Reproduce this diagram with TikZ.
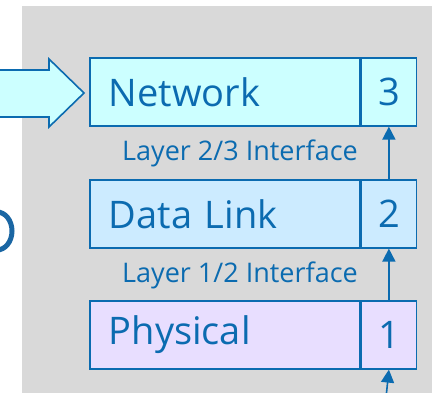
\documentclass[tikz,border=0pt]{standalone}
\usepackage{fontspec}
\setmainfont{Open Sans}
\usetikzlibrary{arrows.meta}

\definecolor{edgeblue}{HTML}{0B6BB0}
\definecolor{ringblue}{HTML}{1A66A3}
\definecolor{bggray}{HTML}{D9D9D9}
\definecolor{netfill}{HTML}{CCFFFF}
\definecolor{dlfill}{HTML}{CCEBFF}
\definecolor{phyfill}{HTML}{E8DEFF}

\tikzset{
  namecell/.style={draw=edgeblue, line width=1.6pt, text=edgeblue,
    font=\fontsize{38}{40}\selectfont, minimum height=68pt,
    text width=232pt, inner xsep=19pt, inner ysep=0pt, align=left,
    anchor=north west},
  numcell/.style={draw=edgeblue, line width=1.6pt, text=edgeblue,
    font=\fontsize{38}{40}\selectfont, minimum height=68pt,
    minimum width=55pt, inner sep=0pt, anchor=west},
  iflabel/.style={text=edgeblue, font=\fontsize{27}{29}\selectfont, inner sep=0pt},
  conn/.style={draw=edgeblue, line width=1.6pt,
    -{Triangle[length=13pt,width=13pt]}}
}

\begin{document}
\begin{tikzpicture}[x=1pt,y=-1pt]
\useasboundingbox (0,0) rectangle (432,393);
\fill[bggray] (22,6) rectangle (432,393);

% partial ring at the left edge
\begin{scope}
  \clip (0,0) rectangle (17,393);
  \draw[ringblue, line width=5pt] (-3,231) ellipse (15 and 19);
\end{scope}

% incoming block arrow
\draw[edgeblue, line width=1.6pt, fill=netfill, line join=miter]
  (-3,70) -- (49,70) -- (49,59) -- (84,93) -- (49,127) -- (49,117) -- (-3,117) -- cycle;

% layer stack
\node[namecell, fill=netfill] (net) at (89,57) {Network};
\node[numcell, fill=netfill] (n3) at (net.east) {3};

\node[namecell, fill=dlfill] (dl) at (89,179) {Data Link};
\node[numcell, fill=dlfill] (n2) at (dl.east) {2};

\node[namecell, fill=phyfill] (phy) at (89,300) {Physical};
\node[numcell, fill=phyfill] (n1) at (phy.east) {1};

% interface labels
\node[iflabel] (if23) at (240,153) {Layer 2/3 Interface};
\node[iflabel] (if12) at (240,275) {Layer 1/2 Interface};

% upward connectors
\coordinate (bottomin) at (386.5,393);
\draw[conn] (n2.north) -- (n3.south);
\draw[conn] (n1.north) -- (n2.south);
\draw[conn] (bottomin) -- (n1.south);
\end{tikzpicture}
\end{document}
